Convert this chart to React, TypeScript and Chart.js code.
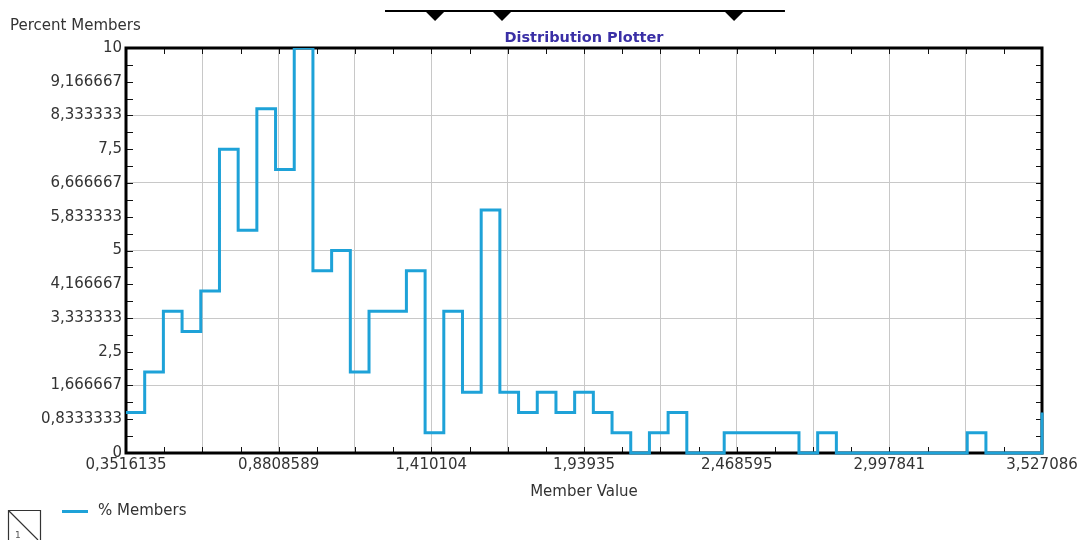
import { useEffect, useRef } from 'react';
import { Chart, registerables } from 'chart.js';

Chart.register(...registerables);

// Axis range and labelled ticks
const xMin = 0.3516135;
const xMax = 3.527086;
const xTickValues = [0.3516135, 0.8808589, 1.410104, 1.93935, 2.468595, 2.997841, 3.527086];
const xTickLabels = ['0,3516135', '0,8808589', '1,410104', '1,93935', '2,468595', '2,997841', '3,527086'];
const yMin = 0;
const yMax = 10;
const yTickValues = [0, 0.8333333, 1.666667, 2.5, 3.333333, 4.166667, 5, 5.833333, 6.666667, 7.5, 8.333333, 9.166667, 10];
const yTickLabels = ['0', '0,8333333', '1,666667', '2,5', '3,333333', '4,166667', '5', '5,833333', '6,666667', '7,5', '8,333333', '9,166667', '10'];

// Histogram: number of bins across the axis range, and percent of members per bin
const binCount = 49;
const percentMembers = [
  1, 2, 3.5, 3, 4,
  7.5, 5.5, 8.5, 7, 10,
  4.5, 5, 2, 3.5, 3.5,
  4.5, 0.5, 3.5, 1.5, 6,
  1.5, 1, 1.5, 1, 1.5,
  1, 0.5, 0, 0.5, 1,
  0, 0, 0.5, 0.5, 0.5,
  0.5, 0, 0.5, 0, 0,
  0, 0, 0, 0, 0,
  0.5, 0, 0, 0, 1,
];

// Range slider above the plot (in member-value units)
const sliderRange = [1.2495, 2.636];
const sliderMarks = [1.423, 1.655, 2.4595];

const seriesLabel = '% Members';
const seriesColor = '#1ea2d8';
const textColor = '#333333';
const fontFamily = "'DejaVu Sans', sans-serif";

// Gridlines sit at every labelled tick plus the midpoints between them
const xGridValues: number[] = [];
xTickValues.forEach((v, i) => {
  xGridValues.push(v);
  if (i < xTickValues.length - 1) xGridValues.push((v + xTickValues[i + 1]) / 2);
});

const binWidth = (xMax - xMin) / binCount;
// each bin's value holds from its left edge until the next edge
const stepPoints = percentMembers.map((p, k) => ({ x: xMin + k * binWidth, y: p }));

const decorPlugin = {
  id: 'decor',
  beforeDatasetsDraw(chart: any) {
    const { ctx, chartArea: a, scales } = chart;
    const xs = scales.x;
    const ys = scales.y;
    ctx.save();
    ctx.strokeStyle = '#111';
    ctx.lineWidth = 1;
    ctx.beginPath();
    for (let i = 1; i < 24; i++) {
      const py = Math.round(ys.getPixelForValue(yMin + ((yMax - yMin) * i) / 24)) + 0.5;
      ctx.moveTo(a.left, py);
      ctx.lineTo(a.left + 7, py);
      ctx.moveTo(a.right, py);
      ctx.lineTo(a.right - 6, py);
    }
    for (let i = 1; i < 24; i++) {
      const px = Math.round(xs.getPixelForValue(xMin + ((xMax - xMin) * i) / 24)) + 0.5;
      ctx.moveTo(px, a.top);
      ctx.lineTo(px, a.top + 6);
      ctx.moveTo(px, a.bottom);
      ctx.lineTo(px, a.bottom - 6);
    }
    ctx.stroke();
    ctx.strokeStyle = '#000';
    ctx.lineWidth = 3;
    ctx.strokeRect(a.left, a.top, a.right - a.left, a.bottom - a.top);
    ctx.restore();
  },
  afterDraw(chart: any) {
    const { ctx, chartArea: a, scales } = chart;
    const xs = scales.x;
    ctx.save();

    // y-axis caption
    ctx.fillStyle = textColor;
    ctx.font = `15px ${fontFamily}`;
    ctx.textAlign = 'left';
    ctx.textBaseline = 'alphabetic';
    ctx.fillText('Percent Members', 10, 30);

    // chart title
    ctx.fillStyle = '#3a2fa6';
    ctx.font = `bold 14.5px ${fontFamily}`;
    ctx.textAlign = 'center';
    ctx.fillText('Distribution Plotter', (a.left + a.right) / 2, 41.5);

    // range slider with its markers
    const sx0 = xs.getPixelForValue(sliderRange[0]);
    const sx1 = xs.getPixelForValue(sliderRange[1]);
    ctx.strokeStyle = '#000';
    ctx.lineWidth = 2;
    ctx.beginPath();
    ctx.moveTo(sx0, 11);
    ctx.lineTo(sx1, 11);
    ctx.stroke();
    ctx.fillStyle = '#000';
    sliderMarks.forEach((m) => {
      const cx = xs.getPixelForValue(m);
      ctx.beginPath();
      ctx.moveTo(cx - 11, 10);
      ctx.lineTo(cx + 11, 10);
      ctx.lineTo(cx, 21);
      ctx.closePath();
      ctx.fill();
    });

    // legend
    const ds = chart.data.datasets[0];
    ctx.strokeStyle = ds.borderColor;
    ctx.lineWidth = 3;
    ctx.beginPath();
    ctx.moveTo(62, 511.5);
    ctx.lineTo(88, 511.5);
    ctx.stroke();
    ctx.fillStyle = textColor;
    ctx.font = `15px ${fontFamily}`;
    ctx.textAlign = 'left';
    ctx.fillText(ds.label, 98, 515);

    // page marker in the corner
    ctx.strokeStyle = '#333';
    ctx.lineWidth = 1.2;
    ctx.beginPath();
    ctx.moveTo(8.5, 545);
    ctx.lineTo(8.5, 510.5);
    ctx.lineTo(40.5, 510.5);
    ctx.lineTo(40.5, 545);
    ctx.moveTo(8.5, 510.5);
    ctx.lineTo(38, 540);
    ctx.stroke();
    ctx.fillStyle = '#555';
    ctx.font = `9px ${fontFamily}`;
    ctx.fillText('1', 15, 538);

    ctx.restore();
  },
};

export default function App() {
  const canvasRef = useRef<HTMLCanvasElement | null>(null);

  useEffect(() => {
    const canvas = canvasRef.current;
    if (!canvas) return;
    const chart = new Chart(canvas, {
      type: 'line',
      data: {
        datasets: [
          {
            label: seriesLabel,
            data: stepPoints,
            borderColor: seriesColor,
            backgroundColor: seriesColor,
            borderWidth: 3,
            stepped: 'before',
            pointRadius: 0,
            fill: false,
            tension: 0,
            borderJoinStyle: 'miter',
            clip: { left: 0, top: 0, right: 3, bottom: 3 },
          } as any,
        ],
      },
      options: {
        responsive: false,
        animation: false,
        devicePixelRatio: 1,
        layout: { padding: { left: 0, right: 40, top: 48, bottom: 0 } },
        plugins: {
          legend: { display: false },
          title: { display: false },
          tooltip: { enabled: false },
        },
        scales: {
          x: {
            type: 'linear',
            min: xMin,
            max: xMax,
            afterBuildTicks: (scale: any) => {
              scale.ticks = xGridValues.map((v) => ({ value: v }));
            },
            afterFit: (scale: any) => {
              scale.height = 87;
              scale.paddingLeft = 0;
              scale.paddingRight = 0;
            },
            grid: { color: '#c8c8c8', lineWidth: 1, drawTicks: false },
            border: { display: false },
            ticks: {
              autoSkip: false,
              maxRotation: 0,
              padding: 3,
              color: textColor,
              font: { family: fontFamily, size: 15 },
              callback: (_v: any, i: number) => (i % 2 === 0 ? xTickLabels[i / 2] : ''),
            },
            title: {
              display: true,
              text: 'Member Value',
              color: textColor,
              font: { family: fontFamily, size: 15 },
              padding: { top: 0, bottom: 39 },
            },
          },
          y: {
            type: 'linear',
            min: yMin,
            max: yMax,
            afterBuildTicks: (scale: any) => {
              scale.ticks = yTickValues.map((v) => ({ value: v }));
            },
            afterFit: (scale: any) => {
              scale.width = 126;
              scale.paddingTop = 0;
              scale.paddingBottom = 0;
            },
            grid: {
              drawTicks: false,
              lineWidth: 1,
              color: (c: any) => (c.index % 2 === 0 ? '#c8c8c8' : 'rgba(0,0,0,0)'),
            },
            border: { display: false },
            ticks: {
              autoSkip: false,
              padding: 4,
              color: textColor,
              font: { family: fontFamily, size: 15 },
              callback: (_v: any, i: number) => yTickLabels[i],
            },
          },
        },
      },
      plugins: [decorPlugin],
    });
    return () => chart.destroy();
  }, []);

  return (
    <div style={{ position: 'fixed', left: 0, top: 0, width: 1082, height: 540, background: '#fff' }}>
      <canvas ref={canvasRef} width={1082} height={540} style={{ display: 'block' }} />
    </div>
  );
}
